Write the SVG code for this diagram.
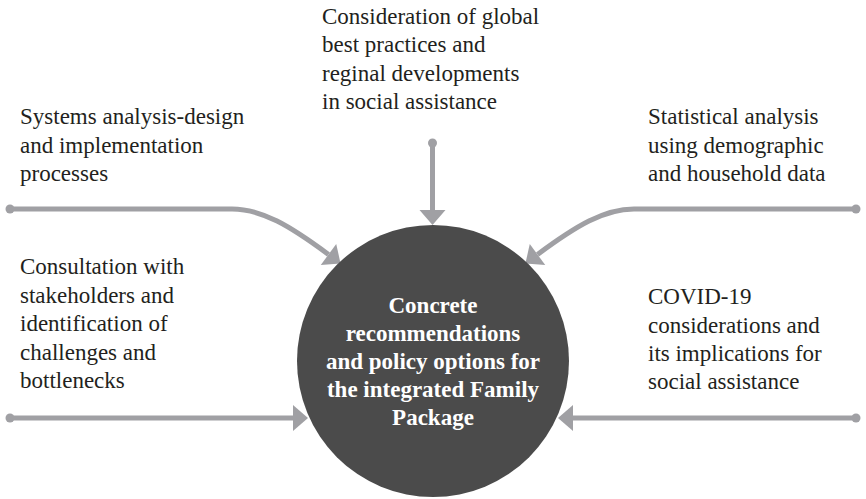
<svg xmlns="http://www.w3.org/2000/svg" width="866" height="499" viewBox="0 0 866 499">
  <style>
    .lbl { font-family: "Liberation Serif", "Times New Roman", serif; font-size: 23px; fill: #231f20; }
    .hub { font-family: "Liberation Serif", "Times New Roman", serif; font-size: 23px; font-weight: bold; fill: #ffffff; text-anchor: middle; }
    .wire { fill: none; stroke: #a0a0a4; stroke-width: 5; }
    .dot { fill: #a0a0a4; }
  </style>
  <defs>
    <marker id="head" markerUnits="userSpaceOnUse" markerWidth="16" markerHeight="26" refX="0" refY="13" orient="auto" overflow="visible">
      <path d="M0,0 L15,13 L0,26 z" fill="#a0a0a4"/>
    </marker>
  </defs>
  <rect width="866" height="499" fill="#ffffff"/>

  <!-- connectors -->
  <g id="connectors">
    <!-- top -->
    <circle class="dot" cx="432.5" cy="143" r="4.5"/>
    <path class="wire" d="M432.5,143 V210" marker-end="url(#head)"/>
    <!-- upper left -->
    <circle class="dot" cx="10" cy="209" r="4.5"/>
    <path class="wire" d="M10,209 H232 C262,209 290,226 328.5,254.5" marker-end="url(#head)"/>
    <!-- upper right -->
    <circle class="dot" cx="856" cy="209" r="4.5"/>
    <path class="wire" d="M856,209 H634 C604,209 576,226 537.5,254.5" marker-end="url(#head)"/>
    <!-- lower left -->
    <circle class="dot" cx="10" cy="418" r="4.5"/>
    <path class="wire" d="M10,418 H293" marker-end="url(#head)"/>
    <!-- lower right -->
    <circle class="dot" cx="856" cy="418" r="4.5"/>
    <path class="wire" d="M856,418 H573" marker-end="url(#head)"/>
  </g>

  <!-- central node -->
  <g id="hub">
    <circle cx="433" cy="361" r="136" fill="#4b4b4b"/>
    <text class="hub" x="433" y="313">Concrete</text>
    <text class="hub" x="433" y="341">recommendations</text>
    <text class="hub" x="433" y="369">and policy options for</text>
    <text class="hub" x="433" y="397">the integrated Family</text>
    <text class="hub" x="433" y="425">Package</text>
  </g>

  <g id="global-practices">
    <text class="lbl" x="322" y="23.5">Consideration of global</text>
    <text class="lbl" x="322" y="52">best practices and</text>
    <text class="lbl" x="322" y="80.5">reginal developments</text>
    <text class="lbl" x="322" y="109">in social assistance</text>
  </g>

  <g id="systems-analysis">
    <text class="lbl" x="20" y="124">Systems analysis-design</text>
    <text class="lbl" x="20" y="152.5">and implementation</text>
    <text class="lbl" x="20" y="181">processes</text>
  </g>

  <g id="statistical-analysis">
    <text class="lbl" x="648" y="124">Statistical analysis</text>
    <text class="lbl" x="648" y="152.5">using demographic</text>
    <text class="lbl" x="648" y="181">and household data</text>
  </g>

  <g id="consultation">
    <text class="lbl" x="20" y="274">Consultation with</text>
    <text class="lbl" x="20" y="302.5">stakeholders and</text>
    <text class="lbl" x="20" y="331">identification of</text>
    <text class="lbl" x="20" y="359.5">challenges and</text>
    <text class="lbl" x="20" y="388">bottlenecks</text>
  </g>

  <g id="covid">
    <text class="lbl" x="648" y="304">COVID-19</text>
    <text class="lbl" x="648" y="332.5">considerations and</text>
    <text class="lbl" x="648" y="361">its implications for</text>
    <text class="lbl" x="648" y="389">social assistance</text>
  </g>
</svg>
